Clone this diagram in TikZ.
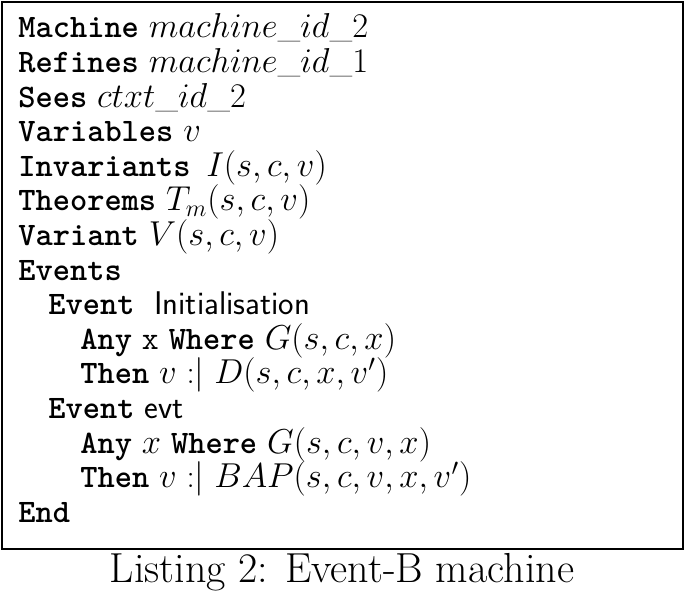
\documentclass[tikz,border=0pt]{standalone}
\usepackage{fontspec}
\newcommand{\kw}[1]{{\ttfamily\bfseries #1}}
\begin{document}
\begin{tikzpicture}[x=1pt,y=1pt,
  ln/.style={anchor=base west,inner sep=0pt,font=\fontsize{16.4}{18}\selectfont}]
\useasboundingbox (0,0) rectangle (342.5,-296);
\draw[line width=0.9pt] (1,-1) rectangle (341.5,-274.5);
\def\s{17.3}
\node[ln] (l1) at (9,-19) {\kw{Machine} $machine\_id\_2$};
\node[ln] (l2) at (9,{-19-\s}) {\kw{Refines} $machine\_id\_1$};
\node[ln] (l3) at (9,{-19-2*\s}) {\kw{Sees} $ctxt\_id\_2$};
\node[ln] (l4) at (9,{-19-3*\s}) {\kw{Variables} $v$};
\node[ln] (l5) at (9,{-19-4*\s}) {\kw{Invariants} $\,I(s,c,v)$};
\node[ln] (l6) at (9,{-19-5*\s}) {\kw{Theorems} $T_m(s,c,v)$};
\node[ln] (l7) at (9,{-19-6*\s}) {\kw{Variant} $V(s,c,v)$};
\node[ln] (l8) at (9,{-19-7*\s}) {\kw{Events}};
\node[ln] (l9) at (24,{-19-8*\s}) {\kw{Event}\ \ \textsf{Initialisation}};
\node[ln] (l10) at (40,{-19-9*\s}) {\kw{Any} \texttt{x} \kw{Where} $G(s,c,x)$};
\node[ln] (l11) at (40,{-19-10*\s}) {\kw{Then} $v$ :$\mid$ $D(s,c,x,v')$};
\node[ln] (l12) at (24,{-19-11*\s}) {\kw{Event} \textsf{evt}};
\node[ln] (l13) at (40,{-19-12*\s}) {\kw{Any} $x$ \kw{Where} $G(s,c,v,x)$};
\node[ln] (l14) at (40,{-19-13*\s}) {\kw{Then} $v$ :$\mid$ $BAP(s,c,v,x,v')$};
\node[ln] (l15) at (9,{-19-14*\s}) {\kw{End}};
\node[anchor=base,inner sep=0pt,font=\fontsize{21}{24}\selectfont] (cap) at (171,-291) {Listing 2: Event-B machine};
\end{tikzpicture}
\end{document}
